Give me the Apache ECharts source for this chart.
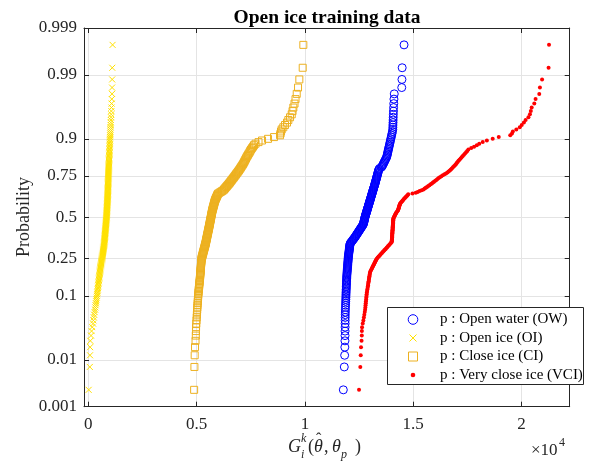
<!DOCTYPE html>
<html>
<head>
<meta charset="utf-8">
<script src="https://cdn.jsdelivr.net/npm/echarts@6/dist/echarts.min.js"></script>
<style>
  html, body { margin: 0; padding: 0; background: #ffffff; }
  #chart { width: 591px; height: 467px; }
</style>
</head>
<body>
<div id="chart"></div>
<script>
// Sorted sample values of G_i^k for each ice class (205 samples each)
const openWater = [
  11773,11818,11834,11843,11849,11852,11854,11856,11857,11859,
  11861,11863,11865,11868,11872,11876,11880,11884,11887,11891,
  11894,11897,11900,11903,11906,11909,11912,11914,11917,11920,
  11922,11925,11927,11929,11933,11938,11942,11946,11950,11954,
  11958,11962,11966,11970,11974,11978,11981,11985,11989,11992,
  11996,11999,12002,12007,12013,12018,12023,12029,12034,12039,
  12044,12049,12054,12059,12064,12069,12074,12079,12087,12115,
  12143,12171,12200,12228,12256,12284,12310,12334,12358,12382,
  12404,12428,12452,12474,12498,12520,12544,12566,12590,12612,
  12634,12658,12680,12700,12707,12715,12724,12732,12740,12747,
  12756,12764,12772,
  12781,12791,12802,12812,12822,12833,12844,12854,12864,12875,
  12885,12896,12906,12916,12927,12937,12948,12959,12970,12980,
  12991,13002,13012,13023,13034,13045,13055,13066,13077,13088,
  13100,13111,13122,13133,13145,13156,13168,13179,13191,13203,
  13215,13227,13239,13250,13261,13272,13283,13294,13305,13317,
  13329,13340,13352,13364,13376,13388,13400,13413,13446,13527,
  13564,13588,13613,13639,13664,13691,13716,13744,13771,13787,
  13801,13813,13827,13841,13855,13870,13885,13901,13917,13933,
  13949,13967,13985,14003,14022,14042,14056,14060,14063,14068,
  14072,14077,14082,14088,14094,14102,14110,14125,14470,14480,
  14490,14576
];
const openIce = [
  15,69,78,83,93,125,150,180,218,235,
  252,268,290,313,324,337,350,362,374,388,
  400,408,417,426,434,443,451,459,466,474,
  482,488,496,503,509,516,523,530,536,542,
  549,555,561,568,577,585,593,601,609,617,
  625,632,639,646,652,658,664,670,676,682,
  688,694,700,706,712,718,723,729,734,738,
  741,744,748,751,754,757,760,763,767,770,
  773,776,779,782,785,788,792,795,798,801,
  804,807,810,813,816,819,822,825,828,831,
  834,837,840,
  842,844,846,848,849,851,853,855,857,859,
  861,863,865,867,869,871,873,874,876,878,
  880,882,884,886,888,890,892,893,894,896,
  897,899,900,901,903,904,906,907,909,910,
  911,913,914,916,917,919,920,922,923,925,
  927,928,930,931,933,935,937,938,941,943,
  945,947,949,951,953,956,958,960,963,965,
  968,970,972,975,978,981,983,987,990,994,
  997,1001,1005,1009,1013,1017,1022,1027,1032,1037,
  1043,1049,1056,1062,1068,1076,1084,1094,1096,1100,
  1105,1120
];
const closeIce = [
  4885,4898,4910,4926,4950,4963,4969,4974,4984,4995,
  5005,5012,5019,5026,5033,5040,5047,5054,5060,5066,
  5072,5078,5085,5093,5100,5107,5114,5120,5127,5133,
  5139,5145,5151,5157,5161,5166,5170,5174,5179,5183,
  5187,5191,5195,5198,5202,5206,5210,5214,5218,5221,
  5224,5230,5241,5253,5265,5275,5286,5298,5308,5319,
  5330,5340,5351,5361,5372,5382,5392,5402,5412,5420,
  5428,5436,5444,5452,5460,5467,5475,5482,5490,5498,
  5505,5513,5521,5528,5536,5543,5551,5558,5566,5573,
  5580,5587,5594,5601,5607,5614,5621,5628,5635,5641,
  5648,5655,5662,
  5668,5675,5682,5689,5696,5702,5709,5716,5723,5732,
  5741,5751,5760,5769,5779,5788,5798,5807,5817,5826,
  5836,5846,5859,5875,5892,5908,5923,5940,5956,5973,
  5997,6056,6115,6174,6233,6267,6301,6332,6366,6400,
  6433,6467,6502,6532,6562,6594,6626,6656,6689,6723,
  6754,6786,6819,6851,6885,6918,6953,6983,7014,7045,
  7076,7107,7143,7169,7195,7223,7249,7278,7305,7338,
  7374,7408,7445,7475,7512,7558,7604,7650,7720,7858,
  8020,8297,8574,8851,8874,8897,8929,9003,9082,9174,
  9234,9313,9391,9428,9465,9520,9566,9622,9682,9742,
  9898,9927
];
const veryCloseIce = [
  12498,12558,12577,12590,12615,12626,12630,12637,12669,12698,
  12721,12742,12762,12779,12789,12799,12809,12818,12826,12835,
  12843,12850,12861,12872,12883,12894,12904,12914,12923,12933,
  12942,12951,12960,12969,12977,12986,12993,13002,13017,13043,
  13068,13092,13116,13140,13164,13188,13211,13233,13256,13277,
  13300,13325,13364,13404,13443,13479,13517,13555,13591,13627,
  13665,13701,13737,13773,13809,13842,13878,13911,13947,13980,
  14008,14011,14014,14016,14018,14021,14023,14026,14028,14031,
  14033,14036,14038,14041,14043,14045,14048,14050,14053,14055,
  14058,14060,14062,14065,14067,14070,14072,14074,14077,14079,
  14080,14095,14111,
  14128,14144,14162,14179,14195,14213,14241,14266,14290,14307,
  14317,14328,14338,14348,14359,14369,14380,14390,14417,14445,
  14476,14506,14535,14568,14602,14636,14668,14703,14737,14771,
  14966,15118,15207,15296,15392,15475,15530,15582,15637,15693,
  15748,15804,15862,15912,15962,16016,16070,16120,16174,16231,
  16299,16369,16444,16514,16578,16633,16689,16738,16786,16834,
  16882,16930,16969,17009,17048,17091,17137,17188,17236,17287,
  17341,17392,17444,17495,17547,17680,17810,17935,18050,18210,
  18400,18670,18950,19480,19560,19600,19760,19920,20010,20110,
  20190,20320,20390,20430,20470,20590,20650,20820,20850,20950,
  21250,21270
];

const seriesNames = [
  'p : Open water (OW)',
  'p : Open ice (OI)',
  'p : Close ice (CI)',
  'p : Very close ice (VCI)'
];
const probTicks = [0.001, 0.01, 0.1, 0.25, 0.5, 0.75, 0.9, 0.99, 0.999];
const probLabels = ['0.001', '0.01', '0.1', '0.25', '0.5', '0.75', '0.9', '0.99', '0.999'];
const xTicks = [0, 5000, 10000, 15000, 20000];

// Inverse of the standard normal CDF (Acklam's rational approximation)
function normInv(p) {
  const a = [-3.969683028665376e+01, 2.209460984245205e+02, -2.759285104469687e+02,
             1.383577518672690e+02, -3.066479806614716e+01, 2.506628277459239e+00];
  const b = [-5.447609879822406e+01, 1.615858368580409e+02, -1.556989798598866e+02,
             6.680131188771972e+01, -1.328068155288572e+01];
  const c = [-7.784894002430293e-03, -3.223964580411365e-01, -2.400758277161838e+00,
             -2.549671348283315e+00, 4.374664141464968e+00, 2.938163982698783e+00];
  const d = [7.784695709041462e-03, 3.224671290700398e-01, 2.445134137142996e+00,
             3.754408661907416e+00];
  const pl = 0.02425, ph = 1 - pl;
  let q, r;
  if (p < pl) {
    q = Math.sqrt(-2 * Math.log(p));
    return (((((c[0]*q+c[1])*q+c[2])*q+c[3])*q+c[4])*q+c[5]) /
           ((((d[0]*q+d[1])*q+d[2])*q+d[3])*q+1);
  }
  if (p <= ph) {
    q = p - 0.5; r = q * q;
    return (((((a[0]*r+a[1])*r+a[2])*r+a[3])*r+a[4])*r+a[5])*q /
           (((((b[0]*r+b[1])*r+b[2])*r+b[3])*r+b[4])*r+1);
  }
  q = Math.sqrt(-2 * Math.log(1 - p));
  return -(((((c[0]*q+c[1])*q+c[2])*q+c[3])*q+c[4])*q+c[5]) /
          ((((d[0]*q+d[1])*q+d[2])*q+d[3])*q+1);
}

// Normal probability plot positions: (i - 0.5) / n
function probPoints(values) {
  const n = values.length;
  return values.map((v, i) => [v, normInv((i + 0.5) / n)]);
}

const zTicks = probTicks.map(normInv);
const zMin = zTicks[0];
const zMax = zTicks[zTicks.length - 1];

const FONT = 'Liberation Serif';
const AXIS_COLOR = '#262626';
const GRID_COLOR = '#e4e4e4';

function probLabel(v) {
  let best = 0;
  zTicks.forEach((z, i) => { if (Math.abs(z - v) < Math.abs(zTicks[best] - v)) best = i; });
  return probLabels[best];
}

const tickStyle = { inside: true, length: 5, lineStyle: { color: AXIS_COLOR, width: 1 } };
const lineStyle = { show: true, onZero: false, lineStyle: { color: AXIS_COLOR, width: 1 } };

const markers = [
  { symbol: 'circle', size: 8, fill: 'rgba(0,0,0,0)', stroke: '#0000ff', width: 1 },
  { symbol: 'path://M0,0L10,10M10,0L0,10', size: 6, fill: 'rgba(0,0,0,0)', stroke: '#ffe100', width: 1 },
  { symbol: 'rect', size: 7, fill: 'rgba(0,0,0,0)', stroke: '#edb120', width: 1 },
  { symbol: 'circle', size: 4, fill: '#ff0000', stroke: '#ff0000', width: 0 }
];
const datasets = [openWater, openIce, closeIce, veryCloseIce];

// Legend box geometry
const LEG = { x: 387.5, y: 307.5, w: 196, h: 77, iconX: 413, textX: 440, rows: [319.5, 338, 356.5, 375] };

function legendIcon(k, cy) {
  const cx = LEG.iconX;
  if (k === 0) {
    return { type: 'circle', z: 6, shape: { cx: cx, cy: cy, r: 4.8 },
             style: { fill: 'none', stroke: '#0000ff', lineWidth: 1 } };
  }
  if (k === 1) {
    return { type: 'group', z: 6, children: [
      { type: 'line', z: 6, shape: { x1: cx - 3.5, y1: cy - 3.5, x2: cx + 3.5, y2: cy + 3.5 }, style: { stroke: '#ffe100', lineWidth: 1 } },
      { type: 'line', z: 6, shape: { x1: cx - 3.5, y1: cy + 3.5, x2: cx + 3.5, y2: cy - 3.5 }, style: { stroke: '#ffe100', lineWidth: 1 } }
    ] };
  }
  if (k === 2) {
    return { type: 'rect', z: 6, shape: { x: cx - 4.5, y: cy - 4.5, width: 9, height: 9 },
             style: { fill: 'none', stroke: '#edb120', lineWidth: 1 } };
  }
  return { type: 'circle', z: 6, shape: { cx: cx, cy: cy, r: 2.3 },
           style: { fill: '#ff0000' } };
}

const legendGraphics = [
  { type: 'rect', z: 5, shape: { x: LEG.x, y: LEG.y, width: LEG.w, height: LEG.h },
    style: { fill: '#ffffff', stroke: AXIS_COLOR, lineWidth: 1 } }
];
seriesNames.forEach((name, k) => {
  legendGraphics.push(legendIcon(k, LEG.rows[k]));
  legendGraphics.push({ type: 'text', z: 6, x: LEG.textX, y: LEG.rows[k],
    style: { text: name, font: '15px "Liberation Serif"', fill: '#000000', verticalAlign: 'middle' } });
});

const chart = echarts.init(document.getElementById('chart'), null, { renderer: 'canvas' });

chart.setOption({
  animation: false,
  backgroundColor: '#ffffff',
  title: {
    text: 'Open ice training data',
    left: 322,
    top: 3,
    textAlign: 'center',
    textStyle: { fontFamily: FONT, fontWeight: 'bold', fontSize: 19.5, color: '#000000' }
  },
  grid: { left: 84, right: 21.3, top: 28, bottom: 60.3 },
  xAxis: [
    {
      type: 'value', min: -200, max: 22225, position: 'bottom',
      axisLine: lineStyle,
      axisTick: Object.assign({ customValues: xTicks }, tickStyle),
      axisLabel: {
        customValues: xTicks,
        formatter: v => String(v / 10000),
        fontFamily: FONT, fontSize: 17, color: AXIS_COLOR, margin: 9
      },
      splitLine: { show: true, lineStyle: { color: GRID_COLOR, width: 1 } }
    },
    {
      type: 'value', min: -200, max: 22225, position: 'top',
      axisLine: lineStyle,
      axisTick: Object.assign({ customValues: xTicks }, tickStyle),
      axisLabel: { show: false },
      splitLine: { show: false }
    }
  ],
  yAxis: [
    {
      type: 'value', min: zMin, max: zMax, position: 'left',
      axisLine: lineStyle,
      axisTick: Object.assign({ customValues: zTicks }, tickStyle),
      axisLabel: {
        customValues: zTicks,
        formatter: probLabel,
        fontFamily: FONT, fontSize: 17, color: AXIS_COLOR, margin: 7
      },
      splitLine: { show: true, lineStyle: { color: GRID_COLOR, width: 1 } }
    },
    {
      type: 'value', min: zMin, max: zMax, position: 'right',
      axisLine: lineStyle,
      axisTick: Object.assign({ customValues: zTicks }, tickStyle),
      axisLabel: { show: false },
      splitLine: { show: false }
    }
  ],
  series: datasets.map((values, k) => ({
    type: 'scatter',
    name: seriesNames[k],
    xAxisIndex: 0,
    yAxisIndex: 0,
    data: probPoints(values),
    symbol: markers[k].symbol,
    symbolSize: markers[k].size,
    itemStyle: {
      color: markers[k].fill,
      borderColor: markers[k].stroke,
      borderWidth: markers[k].width,
      opacity: 1
    },
    emphasis: { disabled: true },
    z: 2 + k * 0.01
  })),
  graphic: legendGraphics.concat([
    // y-axis title
    { type: 'text', z: 5, x: 24, y: 217, rotation: Math.PI / 2,
      style: { text: 'Probability', font: '18px "Liberation Serif"', fill: AXIS_COLOR, align: 'center', verticalAlign: 'middle' } },
    // x-axis label: G_i^k(θ̂, θ_p)
    { type: 'text', z: 5, left: 288, top: 438, style: { text: 'G', font: 'italic 18px "Liberation Serif"', fill: AXIS_COLOR } },
    { type: 'text', z: 5, left: 301, top: 433, style: { text: 'k', font: 'italic 12px "Liberation Serif"', fill: AXIS_COLOR } },
    { type: 'text', z: 5, left: 301, top: 449, style: { text: 'i', font: 'italic 12px "Liberation Serif"', fill: AXIS_COLOR } },
    { type: 'text', z: 5, left: 308, top: 438, style: { text: '(', font: '18px "Liberation Serif"', fill: AXIS_COLOR } },
    { type: 'text', z: 5, left: 314, top: 438, style: { text: 'θ', font: 'italic 18px "Liberation Serif"', fill: AXIS_COLOR } },
    { type: 'text', z: 5, left: 316, top: 432, style: { text: 'ˆ', font: '16px "Liberation Serif"', fill: AXIS_COLOR } },
    { type: 'text', z: 5, left: 324, top: 438, style: { text: ',', font: '18px "Liberation Serif"', fill: AXIS_COLOR } },
    { type: 'text', z: 5, left: 332, top: 438, style: { text: 'θ', font: 'italic 18px "Liberation Serif"', fill: AXIS_COLOR } },
    { type: 'text', z: 5, left: 341, top: 449, style: { text: 'p', font: 'italic 12px "Liberation Serif"', fill: AXIS_COLOR } },
    { type: 'text', z: 5, left: 355, top: 438, style: { text: ')', font: '18px "Liberation Serif"', fill: AXIS_COLOR } },
    // axis exponent: ×10^4
    { type: 'text', z: 5, left: 531, top: 442, style: { text: '×10', font: '17px "Liberation Serif"', fill: AXIS_COLOR } },
    { type: 'text', z: 5, left: 559, top: 437, style: { text: '4', font: '12px "Liberation Serif"', fill: AXIS_COLOR } }
  ])
});
</script>
</body>
</html>
